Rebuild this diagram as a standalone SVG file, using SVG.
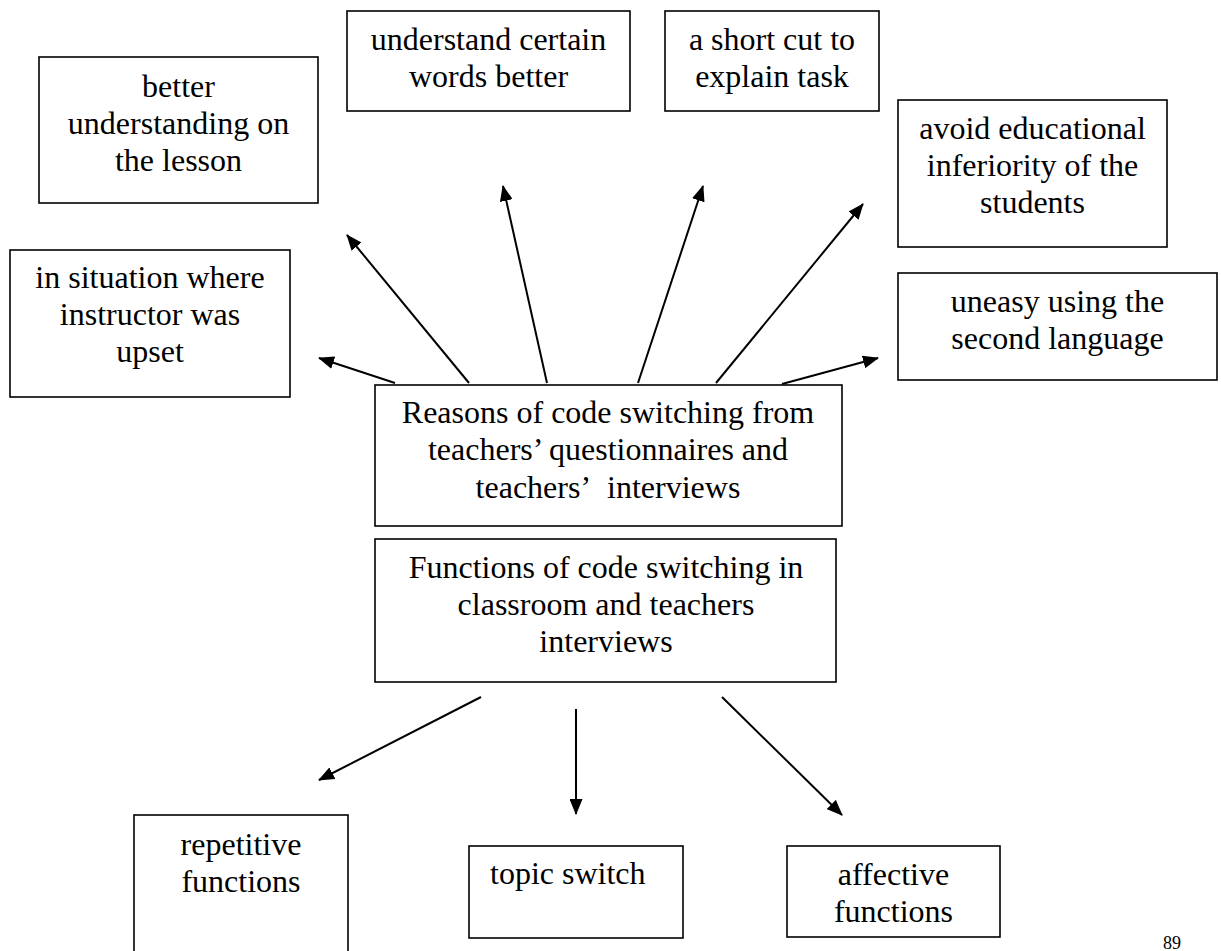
<svg xmlns="http://www.w3.org/2000/svg" width="1221" height="951" viewBox="0 0 1221 951">
<style>
.box{fill:#fff;stroke:#000;stroke-width:1.6}
.t{font-family:"Liberation Serif","Times New Roman",serif;font-size:32px;fill:#000;text-anchor:middle}
.ts{font-family:"Liberation Serif","Times New Roman",serif;font-size:32px;fill:#000;text-anchor:start}
.c{stroke:#000;stroke-width:2;fill:none;marker-end:url(#ah)}
</style>
<defs>
<marker id="ah" markerUnits="userSpaceOnUse" markerWidth="16" markerHeight="13" refX="15" refY="6.5" orient="auto">
<path d="M0,0 L16,6.5 L0,13 Z" fill="#000"/>
</marker>
</defs>
<rect width="1221" height="951" fill="#fff"/>
<g id="connectors">
<line class="c" x1="395" y1="383" x2="319" y2="358"/>
<line class="c" x1="469" y1="383" x2="347" y2="235"/>
<line class="c" x1="547" y1="383" x2="503" y2="186"/>
<line class="c" x1="638" y1="383" x2="703" y2="186"/>
<line class="c" x1="716" y1="383" x2="863" y2="204"/>
<line class="c" x1="782" y1="384" x2="878" y2="358"/>
<line class="c" x1="481" y1="697" x2="319" y2="780"/>
<line class="c" x1="576" y1="709" x2="576" y2="814"/>
<line class="c" x1="722" y1="697" x2="842" y2="815"/>
</g>
<g id="better">
<rect class="box" x="39" y="57" width="279" height="146"/>
<text class="t" x="178.5" y="97">better</text>
<text class="t" x="178.5" y="134">understanding on</text>
<text class="t" x="178.5" y="171">the lesson</text>
</g>
<g id="situation">
<rect class="box" x="10" y="250" width="280" height="147"/>
<text class="t" x="150" y="288">in situation where</text>
<text class="t" x="150" y="325">instructor was</text>
<text class="t" x="150" y="362">upset</text>
</g>
<g id="words">
<rect class="box" x="347" y="11" width="283" height="100"/>
<text class="t" x="488.5" y="50">understand certain</text>
<text class="t" x="488.5" y="87">words better</text>
</g>
<g id="shortcut">
<rect class="box" x="665" y="11" width="214" height="100"/>
<text class="t" x="772" y="50">a short cut to</text>
<text class="t" x="772" y="87">explain task</text>
</g>
<g id="avoid">
<rect class="box" x="898" y="100" width="269" height="147"/>
<text class="t" x="1032.5" y="139">avoid educational</text>
<text class="t" x="1032.5" y="176">inferiority of the</text>
<text class="t" x="1032.5" y="213">students</text>
</g>
<g id="uneasy">
<rect class="box" x="898" y="273" width="319" height="107"/>
<text class="t" x="1057.5" y="312">uneasy using the</text>
<text class="t" x="1057.5" y="349">second language</text>
</g>
<g id="reasons">
<rect class="box" x="375" y="385" width="467" height="141"/>
<text class="t" x="608" y="423">Reasons of code switching from</text>
<text class="t" x="608" y="460">teachers’ questionnaires and</text>
<text class="t" x="608" y="498">teachers’&#160; interviews</text>
</g>
<g id="functions">
<rect class="box" x="375" y="539" width="461" height="143"/>
<text class="t" x="606" y="578">Functions of code switching in</text>
<text class="t" x="606" y="615">classroom and teachers</text>
<text class="t" x="606" y="652">interviews</text>
</g>
<g id="repetitive">
<rect class="box" x="134" y="815" width="214" height="150"/>
<text class="t" x="241" y="855">repetitive</text>
<text class="t" x="241" y="892">functions</text>
</g>
<g id="topic">
<rect class="box" x="469" y="846" width="214" height="92"/>
<text class="ts" x="490" y="884">topic switch</text>
</g>
<g id="affective">
<rect class="box" x="787" y="846" width="213" height="91"/>
<text class="t" x="893.5" y="885">affective</text>
<text class="t" x="893.5" y="922">functions</text>
</g>
<g id="page">
<text class="ts" style="font-size:18px" x="1163" y="949">89</text>
</g>
</svg>
